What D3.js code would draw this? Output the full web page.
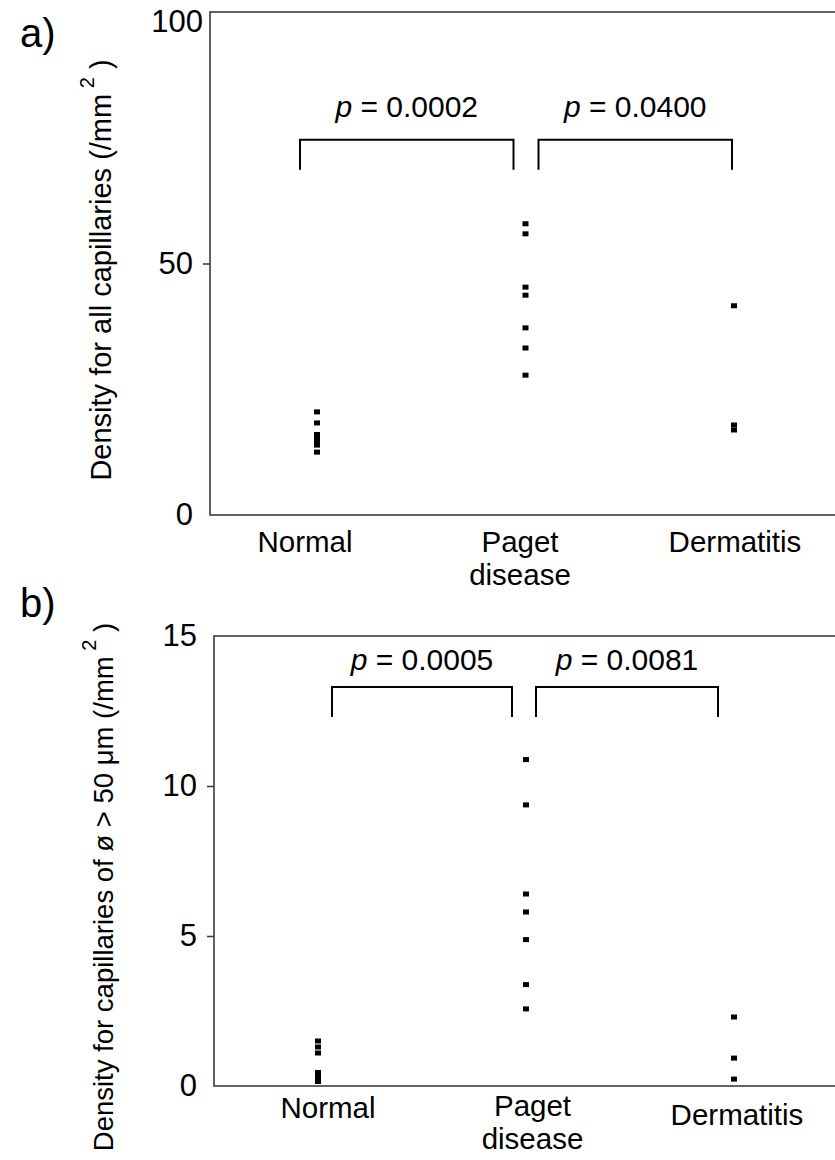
<!DOCTYPE html>
<html>
<head>
<meta charset="utf-8">
<script src="https://cdn.jsdelivr.net/npm/d3@7"></script>
<style>
  body { margin: 0; background: #fff; }
  svg { display: block; font-family: "Liberation Sans", Arial, sans-serif; }
</style>
</head>
<body>
<svg id="chart" width="835" height="1160"></svg>
<script>
const groups = ["Normal", "Paget disease", "Dermatitis"];
const groupLabels = [["Normal"], ["Paget", "disease"], ["Dermatitis"]];

// panel a: density for all capillaries (/mm2)
const allNormal = [20.5, 18.3, 16.0, 15.2, 14.5, 13.9, 12.5];
const allPaget = [57.9, 55.9, 45.3, 43.7, 37.2, 33.2, 27.8];
const allDermatitis = [41.6, 17.9, 16.9];
const allTicks = [0, 50, 100];
const allPValues = ["0.0002", "0.0400"];

// panel b: density for capillaries of diameter > 50 um (/mm2)
const bigNormal = [1.5, 1.3, 1.1, 0.45, 0.33, 0.23, 0.15];
const bigPaget = [10.88, 9.37, 6.4, 5.8, 4.88, 3.38, 2.57];
const bigDermatitis = [2.3, 0.93, 0.23];
const bigTicks = [0, 5, 10, 15];
const bigPValues = ["0.0005", "0.0081"];

let frameColor = "#3c3c3c";

let svg = d3.select("#chart");

drawPanel(svg, {
  letter: "a)", letterY: 47,
  values: [allNormal, allPaget, allDermatitis],
  ticks: allTicks, pValues: allPValues,
  axisX: 210, top: 12, bottom: 515,
  pointRange: [317, 734], labelRange: [305, 735],
  labelY: [552, 552, 552],
  bracketValue: 74.6, pBaseline: 117,
  bracketGaps: [[-17, -12], [13, -2]],
  yTitle: "Density for all capillaries (/mm", yTitleSize: 29, yTitleX: 111, yTitleY: 270,
  topLabelShift: [10, 10]
});

drawPanel(svg, {
  letter: "b)", letterY: 617,
  values: [bigNormal, bigPaget, bigDermatitis],
  ticks: bigTicks, pValues: bigPValues,
  axisX: 214, top: 636, bottom: 1086,
  pointRange: [318, 734], labelRange: [328, 737],
  labelY: [1118, 1116, 1125],
  bracketValue: 13.3, pBaseline: 670,
  bracketGaps: [[14, -14], [10, -16]],
  yTitle: "Density for capillaries of \u00f8 > 50 \u03bcm (/mm", yTitleSize: 27.5, yTitleX: 113, yTitleY: 887,
  topLabelShift: [0, 0]
});

function drawPanel(svg, o) {
  let g = svg.append("g");
  let maxTick = d3.max(o.ticks);

  let y = d3.scaleLinear()
    .domain([0, maxTick])
    .range([o.bottom, o.top]);

  let x = d3.scalePoint()
    .domain(groups)
    .range(o.pointRange);

  let xLabel = d3.scalePoint()
    .domain(groups)
    .range(o.labelRange);

  // frame (right side runs off the page like the original)
  g.append("rect")
    .attr("x", o.axisX)
    .attr("y", o.top)
    .attr("width", 900 - o.axisX)
    .attr("height", o.bottom - o.top)
    .style("fill", "none")
    .style("stroke", frameColor)
    .style("stroke-width", 1.6);

  // y axis: labels for every tick, tick marks only inside the frame
  let yAxis = d3.axisLeft(y)
    .tickValues(o.ticks)
    .tickSize(7)
    .tickPadding(10)
    .tickFormat(d3.format("d"));

  let axisG = g.append("g")
    .attr("transform", "translate(" + o.axisX + ",0)")
    .call(yAxis);
  axisG.select(".domain").remove();
  axisG.selectAll(".tick line")
    .style("stroke", frameColor)
    .style("stroke-width", 1.6)
    .style("display", d => (d === 0 || d === maxTick) ? "none" : null);
  axisG.selectAll(".tick text")
    .style("font-family", "Liberation Sans, Arial, sans-serif")
    .style("font-size", "31px")
    .style("fill", "#000")
    .attr("x", -17)
    .attr("dx", d => d === maxTick ? o.topLabelShift[0] : 0)
    .attr("dy", d => d === maxTick ? (0.32 * 31 + o.topLabelShift[1]) + "px" : "0.32em");

  // category labels
  groups.forEach(function(grp, i) {
    let t = g.append("text")
      .attr("x", xLabel(grp))
      .attr("y", o.labelY[i])
      .style("text-anchor", "middle")
      .style("font-size", "29.5px")
      .style("fill", "#000");
    groupLabels[i].forEach(function(line, j) {
      t.append("tspan")
        .attr("x", xLabel(grp))
        .attr("dy", j === 0 ? 0 : 33)
        .text(line);
    });
  });

  // points
  groups.forEach(function(grp, i) {
    g.selectAll(".pt" + i)
      .data(o.values[i])
      .enter()
      .append("rect")
      .attr("x", x(grp) - 3)
      .attr("y", d => y(d) - 2.5)
      .attr("width", 6)
      .attr("height", 5)
      .style("fill", "#000");
  });

  // significance brackets
  let topY = y(o.bracketValue);
  for (let k = 0; k < 2; k++) {
    let x1 = x(groups[k]) + o.bracketGaps[k][0];
    let x2 = x(groups[k + 1]) + o.bracketGaps[k][1];
    g.append("path")
      .attr("d", d3.line()([[x1, topY + 30], [x1, topY], [x2, topY], [x2, topY + 30]]))
      .style("fill", "none")
      .style("stroke", "#000")
      .style("stroke-width", 2);

    let t = g.append("text")
      .attr("x", (x1 + x2) / 2)
      .attr("y", o.pBaseline)
      .style("text-anchor", "middle")
      .style("font-size", "30px")
      .style("fill", "#000");
    t.append("tspan").style("font-style", "italic").text("p");
    t.append("tspan").text(" = " + o.pValues[k]);
  }

  // y title with superscript
  let title = g.append("text")
    .attr("transform", "translate(" + o.yTitleX + "," + o.yTitleY + ") rotate(-90)")
    .style("text-anchor", "middle")
    .style("font-size", o.yTitleSize + "px")
    .style("fill", "#000");
  title.append("tspan").text(o.yTitle);
  title.append("tspan").attr("dy", -17).style("font-size", "20px").text(" 2");
  title.append("tspan").attr("dy", 17).text(" )");

  // panel letter
  g.append("text")
    .attr("x", 20)
    .attr("y", o.letterY)
    .style("font-size", "40px")
    .style("fill", "#000")
    .text(o.letter);
}
</script>
</body>
</html>
